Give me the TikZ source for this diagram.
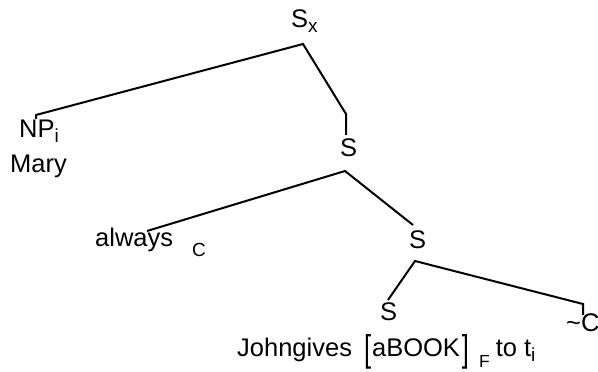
\documentclass[tikz,border=0pt]{standalone}
\usepackage{fontspec}
\setmainfont{Liberation Sans}
\usepackage{graphicx}
\newcommand\sbs[1]{\raisebox{-5pt}{\fontsize{19}{20}\selectfont #1}}
\newcommand\tallbr[1]{\raisebox{-5pt}{\scalebox{1}[1.46]{#1}}}
\tikzset{
  lbl/.style={anchor=base west, inner sep=0pt, font=\fontsize{25.5}{30}\selectfont},
  sub/.style={anchor=base west, inner sep=0pt, font=\fontsize{19}{20}\selectfont},
  edge/.style={line width=2pt, line join=miter}
}
\begin{document}
\begin{tikzpicture}[x=1pt,y=1pt]
\useasboundingbox (0,0) rectangle (598,372);
% labels
\node[lbl] (sx) at (291,344) {S\sbs{x}};
\node[lbl] (np) at (19,234) {NP\sbs{i}};
\node[lbl] (mary) at (10,199) {Mary};
\node[lbl] (s2) at (340,215) {S};
\node[lbl] (always) at (95,125) {always};
\node[sub] (csub) at (192,115) {C};
\node[lbl] (s3) at (409,123) {S};
\node[lbl] (s4) at (380,51) {S};
\node[lbl] (negc) at (566,40) {\textasciitilde C};
\node[lbl] (sent) at (237,15) {Johngives\hspace{12pt}\tallbr{[}\hspace{1pt}aBOOK\hspace{2pt}\tallbr{]}\hspace{10pt}\raisebox{-11pt}{\fontsize{17.5}{20}\selectfont F}\hspace{6pt}to t\sbs{i}};
% vertices and branch ends
\coordinate (vSx) at (303,328);
\coordinate (npEnd) at (36,257);
\coordinate (npTick) at (36,253);
\coordinate (sxR) at (346,258);
\coordinate (s2Top) at (346,237);
\coordinate (vS2) at (345,201);
\coordinate (alwEnd) at (147,141);
\coordinate (s3Top) at (413,147);
\coordinate (vS3) at (415,111);
\coordinate (s4Top) at (388,72);
\coordinate (cCorner) at (583,68);
\coordinate (cEnd) at (583,57);
% branches
\draw[edge] (npTick) -- (npEnd) -- (vSx) -- (sxR) -- (s2Top);
\draw[edge] (alwEnd) -- (vS2) -- (s3Top);
\draw[edge] (s4Top) -- (vS3) -- (cCorner) -- (cEnd);
\end{tikzpicture}
\end{document}
